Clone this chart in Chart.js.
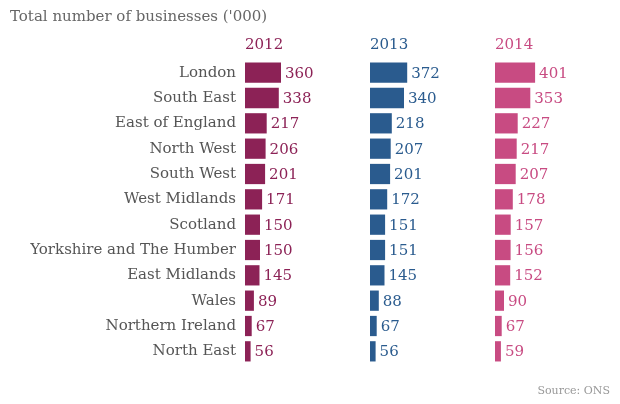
<!DOCTYPE html>
<html>
<head>
<meta charset="utf-8">
<script src="https://cdn.jsdelivr.net/npm/chart.js@4"></script>
<style>
  body { margin: 0; background: #fff; }
  #wrap { position: relative; width: 620px; height: 404px; }
  .title { position: absolute; left: 10px; top: 7px; font: 15px "DejaVu Serif", serif; color: #666; }
  .source { position: absolute; right: 10px; top: 384px; font: 11px "DejaVu Serif", serif; color: #999; }
</style>
</head>
<body>
<div id="wrap">
  <canvas id="c" width="620" height="404"></canvas>
  <div class="title">Total number of businesses ('000)</div>
  <div class="source">Source: ONS</div>
</div>
<script>
const regions = ['London', 'South East', 'East of England', 'North West', 'South West', 'West Midlands',
  'Scotland', 'Yorkshire and The Humber', 'East Midlands', 'Wales', 'Northern Ireland', 'North East'];
const years = ['2012', '2013', '2014'];
const values2012 = [360, 338, 217, 206, 201, 171, 150, 150, 145, 89, 67, 56];
const values2013 = [372, 340, 218, 207, 201, 172, 151, 151, 145, 88, 67, 56];
const values2014 = [401, 353, 227, 217, 207, 178, 157, 156, 152, 90, 67, 59];
const colors = ['#8c2256', '#2a5b8e', '#c84b82'];
const font = '"DejaVu Serif", serif';

const valueLabels = {
  id: 'valueLabels',
  afterDatasetsDraw(chart) {
    const ctx = chart.ctx;
    ctx.save();
    ctx.font = '15px ' + font;
    ctx.textBaseline = 'middle';
    chart.data.datasets.forEach((ds, i) => {
      ctx.fillStyle = ds.backgroundColor;
      chart.getDatasetMeta(i).data.forEach((bar, j) => {
        ctx.fillText(ds.data[j], bar.x + 4, bar.y + 1);
      });
    });
    ctx.restore();
  }
};

const allValues = [values2012, values2013, values2014];
const scales = {
  y: {
    grid: { display: false, drawTicks: false },
    border: { display: false },
    ticks: { color: '#555', font: { family: font, size: 15 }, padding: 9 },
    afterFit: s => { s.width = 245; }
  }
};
// stacked top axes are laid out in reverse order, so add them last-to-first
for (let i = years.length - 1; i >= 0; i--) {
  scales['x' + i] = {
    type: 'linear', position: 'top', stack: 'years', stackWeight: 1,
    min: 0, max: 1250,
    grid: { display: false, drawTicks: false },
    border: { display: false },
    ticks: { display: false },
    title: { display: true, text: years[i], align: 'start', color: colors[i],
             font: { family: font, size: 15 }, padding: { top: 0, bottom: 6 } }
  };
}

new Chart(document.getElementById('c'), {
  type: 'bar',
  data: {
    labels: regions,
    datasets: allValues.map((v, i) => ({
      label: years[i], data: v, xAxisID: 'x' + i, grouped: false,
      backgroundColor: colors[i], categoryPercentage: 0.8, barPercentage: 1
    }))
  },
  options: {
    indexAxis: 'y',
    responsive: false,
    animation: false,
    layout: { padding: { top: 36, bottom: 40, left: 0, right: 0 } },
    plugins: { legend: { display: false }, tooltip: { enabled: false } },
    scales: scales
  },
  plugins: [valueLabels]
});
</script>
</body>
</html>
